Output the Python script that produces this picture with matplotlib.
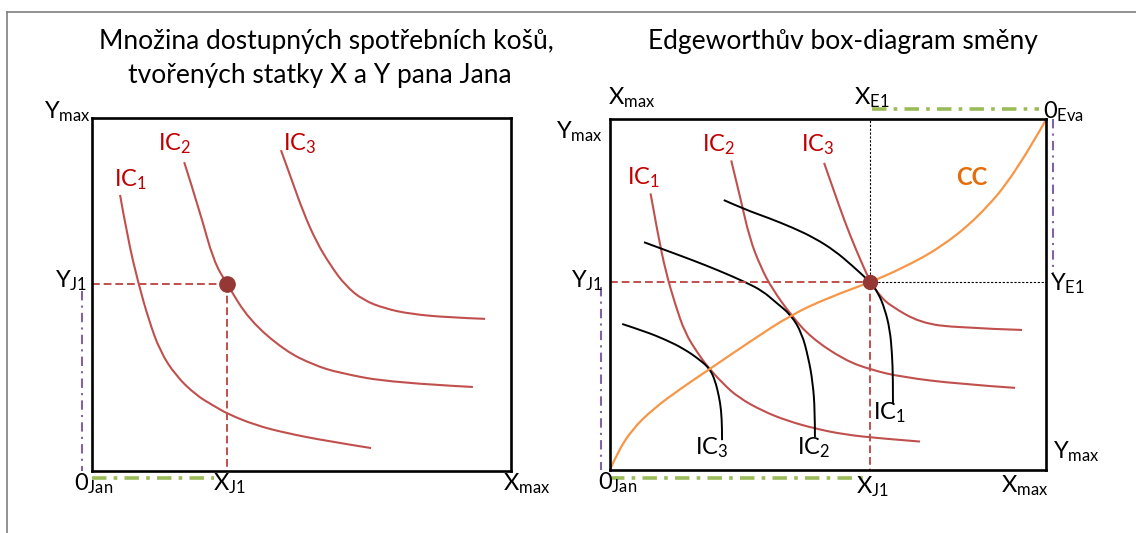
import matplotlib
matplotlib.use("Agg")
import matplotlib.pyplot as plt
from matplotlib.lines import Line2D
from matplotlib.path import Path
from matplotlib.patches import PathPatch

plt.rcParams['font.family'] = ['Lato', 'DejaVu Sans']
plt.rcParams['mathtext.fontset'] = 'custom'
plt.rcParams['mathtext.rm'] = 'Lato'
plt.rcParams['mathtext.it'] = 'Lato:italic'
plt.rcParams['mathtext.bf'] = 'Lato:bold'

# --- data (box coordinates 0..10) ---
# left panel: Jan's indifference curves
jan_ic1_x = [0.67, 0.85, 1.11, 1.35, 1.62, 2.0, 2.48, 2.9, 3.25, 3.9, 4.61, 5.6, 6.66]
jan_ic1_y = [7.82, 6.6, 5.30, 4.3, 3.40, 2.7, 2.15, 1.85, 1.61, 1.3, 1.08, 0.85, 0.65]
jan_ic2_x = [2.20, 2.57, 2.90, 3.22, 3.75, 4.61, 5.3, 5.89, 7.16, 9.09]
jan_ic2_y = [8.75, 7.37, 5.95, 5.30, 4.28, 3.40, 3.0, 2.78, 2.50, 2.38]
jan_ic3_x = [4.51, 4.75, 5.04, 5.35, 5.70, 6.05, 6.47, 7.0, 7.59, 8.5, 9.38]
jan_ic3_y = [9.09, 8.3, 7.34, 6.5, 5.81, 5.25, 4.84, 4.6, 4.45, 4.35, 4.31]
jan_point = (3.22, 5.30)

# right panel: Edgeworth box
box_ic1_x = [0.93, 1.10, 1.28, 1.50, 1.72, 2.0, 2.24, 2.6, 2.94, 3.5, 4.07, 4.7, 5.38, 6.2, 7.11]
box_ic1_y = [7.88, 6.7, 5.64, 4.7, 3.91, 3.35, 2.94, 2.45, 2.07, 1.68, 1.40, 1.18, 1.01, 0.9, 0.81]
box_ic2_x = [2.78, 3.0, 3.20, 3.45, 3.72, 4.15, 4.6, 5.38, 6.0, 6.69, 8.0, 9.29]
box_ic2_y = [8.82, 7.7, 6.61, 5.8, 5.16, 4.42, 3.78, 3.13, 2.85, 2.65, 2.45, 2.34]
box_ic3_x = [4.91, 5.15, 5.38, 5.65, 5.97, 6.2, 6.43, 7.12, 7.99, 9.45]
box_ic3_y = [8.75, 7.9, 7.09, 6.25, 5.35, 4.95, 4.68, 4.19, 4.05, 3.99]

eva_ic1_x = [2.61, 3.1, 3.64, 4.2, 4.69, 5.15, 5.55, 5.97, 6.15, 6.30, 6.42, 6.47, 6.49, 6.49]
eva_ic1_y = [7.69, 7.42, 7.18, 6.9, 6.61, 6.25, 5.83, 5.35, 5.05, 4.6, 4.0, 3.3, 2.6, 1.91]
eva_ic2_x = [0.78, 1.3, 1.89, 2.5, 3.11, 3.5, 3.81, 4.15, 4.40, 4.55, 4.65, 4.70, 4.70]
eva_ic2_y = [6.49, 6.25, 5.98, 5.68, 5.35, 5.1, 4.77, 4.42, 3.9, 3.2, 2.5, 1.7, 0.94]
eva_ic3_x = [0.28, 0.8, 1.28, 1.7, 2.07, 2.29, 2.41, 2.50, 2.55, 2.57, 2.57]
eva_ic3_y = [4.16, 3.95, 3.71, 3.45, 3.13, 2.88, 2.55, 2.1, 1.7, 1.2, 0.85]

cc_x = [0.0, 0.15, 0.5, 1.0, 1.6, 2.29, 3.2, 4.15, 5.03, 5.97, 6.69, 7.56, 8.43, 9.30, 10.0]
cc_y = [0.0, 0.45, 1.15, 1.75, 2.30, 2.88, 3.65, 4.42, 4.92, 5.35, 5.74, 6.32, 7.18, 8.44, 9.98]
box_point = (5.97, 5.35)

title_left = ["Množina dostupných spotřebních košů,", "tvořených statky X a Y pana Jana"]
title_right = "Edgeworthův box-diagram směny"

RED = '#C0504D'
RED_TXT = '#C00000'
DOT = '#953735'
ORANGE = '#F79646'
GREEN = '#9BBB59'
PURPLE = '#8064A2'

FS = 17
FS_TITLE = 19
green_ls = (0, (4, 2, 1, 2))
purple_ls = (0, (4.5, 2.5, 1, 2.5))
red_ls = (0, (4, 2))


def setup_box(ax):
    ax.set_xlim(0, 10)
    ax.set_ylim(0, 10)
    ax.set_xticks([])
    ax.set_yticks([])
    for sp in ax.spines.values():
        sp.set_linewidth(1.9)
        sp.set_color('black')
        sp.set_zorder(5)


def smooth_curve(ax, xs, ys, color, lw, clip=True):
    # quadratic bezier through midpoints, drawn by matplotlib's path renderer
    pts = list(zip(xs, ys))
    verts = [pts[0]]
    codes = [Path.MOVETO]
    for i in range(1, len(pts) - 1):
        mid = ((pts[i][0] + pts[i + 1][0]) / 2, (pts[i][1] + pts[i + 1][1]) / 2)
        if i == len(pts) - 2:
            mid = pts[-1]
        verts += [pts[i], mid]
        codes += [Path.CURVE3, Path.CURVE3]
    patch = PathPatch(Path(verts, codes), facecolor='none', edgecolor=color, lw=lw,
                      capstyle='butt', joinstyle='round', transform=ax.transData)
    patch.set_clip_on(clip)
    ax.add_patch(patch)


def lab(ax, x, y, s, ha='center', color='black', fs=FS, **kw):
    ax.text(x, y, s, ha=ha, va='center', color=color, fontsize=fs, clip_on=False, **kw)


fig = plt.figure(figsize=(11.36, 5.33), dpi=100)

# outer grey frame (top + left only visible)
fig.add_artist(Line2D([7 / 1136, 1.0], [1 - 12 / 533, 1 - 12 / 533], color='#7f7f7f', lw=1.2))
fig.add_artist(Line2D([7 / 1136, 7 / 1136], [0.0, 1 - 12 / 533], color='#7f7f7f', lw=1.2))

# titles
fig.text(326 / 1136, 1 - 42 / 533, title_left[0], ha='center', va='center', fontsize=FS_TITLE)
fig.text(320 / 1136, 1 - 75 / 533, title_left[1], ha='center', va='center', fontsize=FS_TITLE)
fig.text(843 / 1136, 1 - 42 / 533, title_right, ha='center', va='center', fontsize=FS_TITLE)

# ---------- left panel ----------
ax1 = fig.add_axes([92 / 1136, 62 / 533, 419 / 1136, 353 / 533])
setup_box(ax1)
for xs, ys in [(jan_ic1_x, jan_ic1_y), (jan_ic2_x, jan_ic2_y), (jan_ic3_x, jan_ic3_y)]:
    smooth_curve(ax1, xs, ys, RED, 1.5)
px, py = jan_point
ax1.plot([0, px], [py, py], color=RED, lw=1.4, ls=red_ls)
ax1.plot([px, px], [py, 0], color=RED, lw=1.4, ls=red_ls)
ax1.plot(px, py, 'o', color=DOT, ms=11, zorder=6)
ax1.plot([-0.24, -0.24], [5.1, 0], color=PURPLE, lw=1.5, ls=purple_ls, clip_on=False)
ax1.plot([0, 2.9], [-0.2, -0.2], color=GREEN, lw=2.6, ls=green_ls, clip_on=False)

lab(ax1, 0.91, 8.24, r'$\mathrm{IC_1}$', color=RED_TXT)
lab(ax1, 1.98, 9.26, r'$\mathrm{IC_2}$', color=RED_TXT)
lab(ax1, 4.96, 9.26, r'$\mathrm{IC_3}$', color=RED_TXT)
lab(ax1, -0.02, 10.17, r'$\mathrm{Y_{max}}$', ha='right')
lab(ax1, -0.10, 5.38, r'$\mathrm{Y_{J1}}$', ha='right')
lab(ax1, 0.05, -0.37, r'$\mathrm{0_{Jan}}$')
lab(ax1, 3.29, -0.37, r'$\mathrm{X_{J1}}$')
lab(ax1, 10.38, -0.37, r'$\mathrm{X_{max}}$')

# ---------- right panel ----------
ax2 = fig.add_axes([610 / 1136, 63 / 533, 436 / 1136, 351 / 533])
setup_box(ax2)
for xs, ys in [(box_ic1_x, box_ic1_y), (box_ic2_x, box_ic2_y), (box_ic3_x, box_ic3_y)]:
    smooth_curve(ax2, xs, ys, RED, 1.5)
for xs, ys in [(eva_ic1_x, eva_ic1_y), (eva_ic2_x, eva_ic2_y), (eva_ic3_x, eva_ic3_y)]:
    smooth_curve(ax2, xs, ys, 'black', 1.4)
smooth_curve(ax2, cc_x, cc_y, ORANGE, 1.6, clip=False)

qx, qy = box_point
ax2.plot([0, qx], [qy, qy], color=RED, lw=1.4, ls=red_ls)
ax2.plot([qx, qx], [qy, 0], color=RED, lw=1.4, ls=red_ls)
ax2.plot([qx, qx], [qy, 10], color='black', lw=0.8, ls=(0, (2, 1.5)))
ax2.plot([qx, 10], [qy, qy], color='black', lw=0.8, ls=(0, (2, 1.5)))
ax2.plot(qx, qy, 'o', color=DOT, ms=10, zorder=6)

ax2.plot([-0.21, -0.21], [5.2, 0], color=PURPLE, lw=1.5, ls=purple_ls, clip_on=False)
ax2.plot([10.16, 10.16], [10, 5.6], color=PURPLE, lw=1.5, ls=purple_ls, clip_on=False)
ax2.plot([0, 5.8], [-0.23, -0.23], color=GREEN, lw=2.6, ls=green_ls, clip_on=False)
ax2.plot([6.0, 9.85], [10.28, 10.28], color=GREEN, lw=2.6, ls=green_ls, clip_on=False)

lab(ax2, 0.76, 8.32, r'$\mathrm{IC_1}$', color=RED_TXT)
lab(ax2, 2.48, 9.26, r'$\mathrm{IC_2}$', color=RED_TXT)
lab(ax2, 4.77, 9.26, r'$\mathrm{IC_3}$', color=RED_TXT)
lab(ax2, 8.3, 8.32, 'CC', color='#E46C0A', fs=17, fontweight='bold')
lab(ax2, 6.42, 1.62, r'$\mathrm{IC_1}$')
lab(ax2, 4.68, 0.63, r'$\mathrm{IC_2}$')
lab(ax2, 2.34, 0.63, r'$\mathrm{IC_3}$')

lab(ax2, 0.5, 10.6, r'$\mathrm{X_{max}}$')
lab(ax2, -0.16, 9.63, r'$\mathrm{Y_{max}}$', ha='right')
lab(ax2, 6.0, 10.6, r'$\mathrm{X_{E1}}$')
lab(ax2, 10.41, 10.2, r'$\mathrm{0_{Eva}}$')
lab(ax2, 10.5, 5.3, r'$\mathrm{Y_{E1}}$')
lab(ax2, -0.16, 5.38, r'$\mathrm{Y_{J1}}$', ha='right')
lab(ax2, 10.16, 0.51, r'$\mathrm{Y_{max}}$', ha='left')
lab(ax2, 9.52, -0.46, r'$\mathrm{X_{max}}$')
lab(ax2, 6.03, -0.48, r'$\mathrm{X_{J1}}$')
lab(ax2, 0.18, -0.37, r'$\mathrm{0_{Jan}}$')

fig.savefig('out.png', dpi=100)
